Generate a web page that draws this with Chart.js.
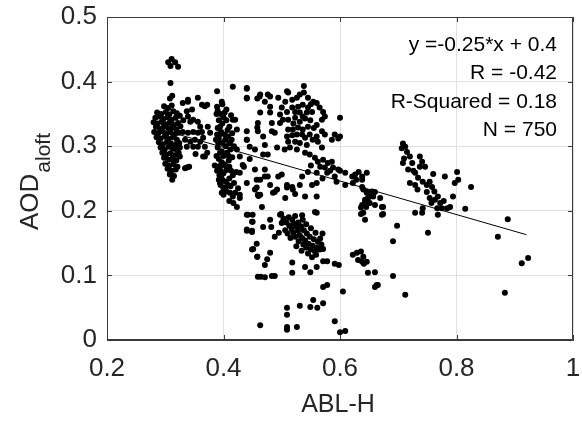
<!DOCTYPE html>
<html><head><meta charset="utf-8">
<script src="https://cdn.jsdelivr.net/npm/chart.js@4/dist/chart.umd.min.js"></script>
<style>html,body{margin:0;padding:0;background:#fff}#wrap{width:582px;height:423px}</style>
</head><body><div id="wrap"><canvas id="c" width="582" height="423"></canvas></div>
<script>
// ---- data (ABL-H, AOD aloft) ----
const leftHigh = [[0.305,0.43],[0.311,0.435],[0.317,0.43],[0.322,0.423],[0.309,0.424],[0.309,0.398],[0.312,0.378],[0.308,0.374],[0.33,0.367],[0.339,0.369],[0.356,0.375],[0.363,0.364],[0.368,0.362],[0.339,0.372],[0.372,0.364],[0.389,0.385],[0.397,0.369],[0.389,0.361],[0.416,0.392],[0.44,0.389],[0.44,0.374],[0.458,0.374],[0.42,0.341]];
const leftCluster = [[0.298,0.362],[0.305,0.359],[0.311,0.363],[0.286,0.352],[0.293,0.35],[0.301,0.353],[0.307,0.349],[0.314,0.354],[0.32,0.351],[0.283,0.344],[0.29,0.346],[0.297,0.342],[0.304,0.345],[0.311,0.341],[0.318,0.344],[0.325,0.347],[0.28,0.337],[0.287,0.335],[0.294,0.338],[0.301,0.334],[0.308,0.337],[0.315,0.333],[0.322,0.336],[0.284,0.33],[0.291,0.327],[0.298,0.331],[0.305,0.328],[0.312,0.329],[0.319,0.326],[0.326,0.331],[0.281,0.322],[0.288,0.32],[0.295,0.323],[0.302,0.319],[0.309,0.322],[0.316,0.318],[0.323,0.321],[0.285,0.314],[0.292,0.312],[0.299,0.315],[0.306,0.311],[0.313,0.314],[0.32,0.31],[0.289,0.306],[0.296,0.303],[0.303,0.307],[0.31,0.304],[0.317,0.302],[0.324,0.305],[0.292,0.298],[0.299,0.295],[0.306,0.299],[0.313,0.296],[0.32,0.294],[0.295,0.29],[0.302,0.287],[0.309,0.289],[0.316,0.286],[0.323,0.29],[0.298,0.282],[0.305,0.279],[0.312,0.281],[0.319,0.278],[0.3,0.273],[0.307,0.27],[0.314,0.272],[0.321,0.268],[0.304,0.265],[0.311,0.262],[0.318,0.264],[0.308,0.257],[0.315,0.254],[0.312,0.248],[0.313,0.279],[0.325,0.284],[0.334,0.266],[0.341,0.268],[0.337,0.267],[0.308,0.256]];
const boxArea = [[0.337,0.354],[0.346,0.357],[0.339,0.346],[0.348,0.341],[0.343,0.338],[0.33,0.322],[0.339,0.321],[0.348,0.322],[0.356,0.321],[0.363,0.322],[0.334,0.31],[0.343,0.307],[0.351,0.31],[0.36,0.307],[0.365,0.313],[0.337,0.299],[0.348,0.299],[0.356,0.299],[0.368,0.299],[0.372,0.29],[0.365,0.284],[0.325,0.298],[0.356,0.338],[0.373,0.33],[0.377,0.321],[0.368,0.284],[0.352,0.288],[0.36,0.33],[0.331,0.34]];
const column = [[0.39,0.355],[0.395,0.35],[0.4,0.345],[0.392,0.34],[0.398,0.335],[0.405,0.34],[0.41,0.33],[0.39,0.328],[0.396,0.322],[0.402,0.318],[0.408,0.315],[0.415,0.32],[0.392,0.312],[0.398,0.305],[0.404,0.3],[0.41,0.305],[0.39,0.298],[0.394,0.29],[0.4,0.285],[0.406,0.29],[0.412,0.295],[0.418,0.3],[0.392,0.28],[0.397,0.275],[0.403,0.27],[0.409,0.278],[0.415,0.283],[0.39,0.268],[0.395,0.262],[0.4,0.258],[0.405,0.263],[0.41,0.268],[0.393,0.255],[0.398,0.248],[0.404,0.245],[0.41,0.25],[0.416,0.255],[0.422,0.26],[0.395,0.24],[0.4,0.235],[0.405,0.23],[0.412,0.238],[0.418,0.243],[0.4,0.225],[0.42,0.228],[0.425,0.235],[0.398,0.365],[0.405,0.357],[0.413,0.348],[0.387,0.31],[0.388,0.285],[0.385,0.27],[0.416,0.341],[0.423,0.326],[0.411,0.305],[0.423,0.295],[0.428,0.284],[0.433,0.271],[0.428,0.259],[0.411,0.228],[0.428,0.22],[0.423,0.206],[0.44,0.194],[0.44,0.323],[0.44,0.31],[0.394,0.243],[0.403,0.236],[0.416,0.222],[0.442,0.194],[0.449,0.183],[0.44,0.171],[0.449,0.169],[0.449,0.14],[0.458,0.129],[0.393,0.318],[0.397,0.292],[0.401,0.272],[0.396,0.253],[0.388,0.35],[0.402,0.352],[0.394,0.33],[0.407,0.325],[0.389,0.318],[0.403,0.31],[0.414,0.31],[0.391,0.305],[0.409,0.285],[0.395,0.27],[0.413,0.262],[0.389,0.262],[0.392,0.248],[0.408,0.24],[0.397,0.228],[0.41,0.215],[0.417,0.212]];
const midLeft = [[0.44,0.39],[0.44,0.375],[0.463,0.38],[0.476,0.38],[0.471,0.369],[0.48,0.361],[0.463,0.352],[0.48,0.352],[0.459,0.336],[0.483,0.336],[0.459,0.323],[0.483,0.323],[0.488,0.321],[0.468,0.315],[0.44,0.31],[0.445,0.299],[0.454,0.295],[0.471,0.302],[0.492,0.298],[0.468,0.287],[0.476,0.287],[0.494,0.253],[0.471,0.264],[0.476,0.253],[0.48,0.24],[0.463,0.248],[0.457,0.236],[0.459,0.225],[0.492,0.233],[0.506,0.22],[0.454,0.264],[0.44,0.243],[0.457,0.248],[0.471,0.253],[0.488,0.229],[0.5,0.256],[0.454,0.233],[0.463,0.225],[0.428,0.225],[0.509,0.236],[0.519,0.233],[0.48,0.377],[0.462,0.377],[0.458,0.329],[0.445,0.28],[0.435,0.268]];
const upperMid = [[0.494,0.375],[0.506,0.369],[0.511,0.383],[0.518,0.372],[0.526,0.375],[0.531,0.38],[0.538,0.393],[0.538,0.383],[0.545,0.375],[0.554,0.369],[0.56,0.367],[0.5,0.36],[0.509,0.353],[0.518,0.36],[0.523,0.353],[0.528,0.361],[0.536,0.364],[0.545,0.36],[0.552,0.353],[0.571,0.353],[0.574,0.346],[0.497,0.349],[0.502,0.341],[0.497,0.336],[0.511,0.341],[0.523,0.344],[0.531,0.352],[0.536,0.346],[0.543,0.352],[0.569,0.341],[0.6,0.344],[0.511,0.326],[0.519,0.326],[0.528,0.329],[0.536,0.326],[0.509,0.315],[0.518,0.317],[0.526,0.318],[0.535,0.318],[0.54,0.313],[0.511,0.307],[0.523,0.307],[0.531,0.305],[0.543,0.302],[0.514,0.298],[0.526,0.295],[0.56,0.333],[0.569,0.323],[0.574,0.318],[0.586,0.31],[0.591,0.318],[0.6,0.315],[0.56,0.315],[0.562,0.307],[0.569,0.298],[0.509,0.385],[0.549,0.34],[0.555,0.328],[0.548,0.318],[0.553,0.31],[0.52,0.335],[0.545,0.33],[0.505,0.295],[0.597,0.312],[0.531,0.338],[0.54,0.343],[0.565,0.36],[0.55,0.365]];
const diagonalBand = [[0.54,0.29],[0.548,0.287],[0.557,0.282],[0.562,0.276],[0.571,0.279],[0.566,0.268],[0.574,0.267],[0.579,0.274],[0.586,0.276],[0.588,0.267],[0.597,0.264],[0.609,0.259],[0.621,0.253],[0.622,0.243],[0.638,0.248],[0.609,0.24],[0.591,0.253],[0.578,0.259],[0.56,0.259],[0.56,0.243],[0.552,0.24],[0.535,0.253],[0.531,0.24],[0.518,0.237],[0.509,0.24],[0.54,0.222],[0.56,0.222],[0.626,0.256],[0.646,0.259],[0.638,0.253],[0.6,0.262],[0.583,0.262],[0.594,0.245],[0.57,0.25],[0.55,0.27],[0.545,0.26],[0.523,0.226],[0.485,0.228],[0.46,0.223],[0.466,0.206],[0.468,0.175],[0.48,0.186],[0.482,0.175],[0.488,0.16],[0.495,0.166],[0.499,0.195],[0.502,0.183],[0.56,0.197],[0.557,0.198],[0.45,0.194],[0.45,0.183]];
const lowerMid = [[0.497,0.194],[0.503,0.188],[0.5,0.181],[0.508,0.182],[0.513,0.177],[0.517,0.172],[0.52,0.166],[0.52,0.18],[0.526,0.175],[0.523,0.16],[0.528,0.169],[0.531,0.162],[0.529,0.153],[0.535,0.158],[0.537,0.148],[0.54,0.154],[0.542,0.143],[0.546,0.149],[0.55,0.14],[0.553,0.146],[0.557,0.137],[0.56,0.143],[0.565,0.14],[0.568,0.148],[0.571,0.141],[0.562,0.152],[0.555,0.156],[0.548,0.16],[0.543,0.165],[0.538,0.17],[0.533,0.176],[0.528,0.182],[0.518,0.186],[0.512,0.19],[0.515,0.158],[0.51,0.165],[0.525,0.145],[0.534,0.138],[0.545,0.134],[0.552,0.128],[0.559,0.132],[0.566,0.157],[0.57,0.165],[0.558,0.166],[0.55,0.173],[0.542,0.179],[0.536,0.186],[0.506,0.17],[0.523,0.192],[0.535,0.193]];
const lowerScatter = [[0.463,0.023],[0.509,0.05],[0.509,0.039],[0.509,0.02],[0.509,0.016],[0.526,0.02],[0.531,0.053],[0.549,0.051],[0.554,0.062],[0.561,0.05],[0.571,0.057],[0.571,0.082],[0.578,0.085],[0.591,0.029],[0.6,0.012],[0.609,0.014],[0.605,0.075],[0.464,0.098],[0.471,0.097],[0.483,0.099],[0.488,0.099],[0.518,0.104],[0.518,0.12],[0.54,0.113],[0.549,0.105],[0.56,0.113],[0.571,0.122],[0.578,0.122],[0.591,0.118],[0.598,0.116],[0.471,0.116],[0.475,0.125],[0.48,0.135],[0.458,0.129],[0.451,0.141],[0.457,0.149],[0.44,0.169],[0.449,0.167],[0.459,0.098]];
const rightMid = [[0.622,0.132],[0.629,0.135],[0.636,0.137],[0.631,0.124],[0.638,0.121],[0.641,0.118],[0.64,0.129],[0.646,0.121],[0.648,0.104],[0.66,0.105],[0.663,0.085],[0.66,0.082],[0.665,0.085],[0.691,0.099],[0.691,0.153],[0.698,0.177],[0.712,0.07],[0.64,0.233],[0.646,0.228],[0.655,0.23],[0.657,0.222],[0.648,0.22],[0.643,0.214],[0.638,0.209],[0.651,0.212],[0.66,0.209],[0.645,0.206],[0.674,0.206],[0.64,0.197],[0.674,0.195],[0.643,0.186],[0.638,0.237],[0.646,0.229],[0.66,0.229],[0.651,0.222],[0.643,0.217],[0.669,0.22],[0.672,0.206],[0.672,0.194],[0.636,0.205],[0.636,0.195],[0.632,0.26],[0.628,0.248]];
const rightCluster = [[0.708,0.304],[0.712,0.299],[0.715,0.291],[0.72,0.284],[0.708,0.274],[0.724,0.274],[0.717,0.264],[0.729,0.259],[0.72,0.243],[0.729,0.24],[0.737,0.284],[0.741,0.276],[0.746,0.268],[0.737,0.268],[0.734,0.251],[0.742,0.245],[0.749,0.24],[0.754,0.245],[0.76,0.257],[0.758,0.237],[0.749,0.229],[0.754,0.22],[0.763,0.217],[0.768,0.222],[0.772,0.212],[0.775,0.204],[0.767,0.204],[0.784,0.204],[0.789,0.206],[0.768,0.194],[0.78,0.253],[0.794,0.222],[0.801,0.26],[0.803,0.248],[0.797,0.243],[0.825,0.237],[0.815,0.203],[0.742,0.204],[0.741,0.197],[0.729,0.197],[0.751,0.166],[0.706,0.297],[0.71,0.281],[0.726,0.262],[0.733,0.233],[0.762,0.23],[0.757,0.212],[0.778,0.215]];
const farRight = [[0.888,0.187],[0.871,0.16],[0.912,0.119],[0.923,0.127],[0.883,0.073]];
// fitted line endpoints as drawn (y = -0.25*x + 0.4)
const fitX = [0.285, 0.92];
const fitY = [0.328, 0.163];
const xTicks = [0.2, 0.4, 0.6, 0.8, 1];
const yTicks = [0, 0.1, 0.2, 0.3, 0.4, 0.5];
const statsLines = ['y =-0.25*x + 0.4', 'R = -0.42', 'R-Squared = 0.18', 'N = 750'];

const FONT = '"Liberation Sans", Arial, Helvetica, sans-serif';
const groups = [leftHigh, leftCluster, boxArea, column, midLeft, upperMid, diagonalBand, lowerMid, lowerScatter, rightMid, rightCluster, farRight];
const pts = [];
groups.forEach(g => g.forEach(p => pts.push({x: p[0], y: p[1]})));
const fitPts = fitX.map((x, i) => ({x, y: fitY[i]}));

const fmt = v => String(Number(v.toFixed(1)));

const framePlugin = {
  id: 'frame',
  afterDatasetsDraw(chart) {
    const ctx = chart.ctx, a = chart.chartArea;
    const xs = chart.scales.x, ys = chart.scales.y;
    ctx.save();
    ctx.strokeStyle = '#3a3a3a';
    ctx.lineWidth = 1;
    ctx.beginPath();
    ctx.rect(a.left + 0.5, a.top + 0.5, a.right - a.left - 1, a.bottom - a.top - 1);
    ctx.stroke();
    ctx.beginPath();
    const L = 5;
    xTicks.forEach(v => {
      const px = Math.round(xs.getPixelForValue(v)) + 0.5;
      ctx.moveTo(px, a.bottom); ctx.lineTo(px, a.bottom - L);
      ctx.moveTo(px, a.top); ctx.lineTo(px, a.top + L);
    });
    yTicks.forEach(v => {
      const py = Math.round(ys.getPixelForValue(v)) + 0.5;
      ctx.moveTo(a.left, py); ctx.lineTo(a.left + L, py);
      ctx.moveTo(a.right, py); ctx.lineTo(a.right - L, py);
    });
    ctx.stroke();
    // stats text
    ctx.fillStyle = '#000';
    ctx.font = '21px ' + FONT;
    ctx.textAlign = 'right';
    ctx.textBaseline = 'middle';
    const ty = [45, 73, 102, 130];
    statsLines.forEach((s, i) => ctx.fillText(s, 557, ty[i]));
    // x title
    ctx.fillStyle = '#262626';
    ctx.font = '25px ' + FONT;
    ctx.textAlign = 'center';
    ctx.fillText('ABL-H', 338, 405);
    // y title with subscript
    ctx.save();
    ctx.translate(50, 182);
    ctx.rotate(-Math.PI / 2);
    ctx.textBaseline = 'alphabetic';
    ctx.textAlign = 'left';
    const f1 = '26px ' + FONT, f2 = '21px ' + FONT;
    ctx.font = f1; const w1 = ctx.measureText('AOD').width;
    ctx.font = f2; const w2 = ctx.measureText('aloft').width;
    const sx = -(w1 + w2) / 2;
    ctx.font = f1; ctx.fillText('AOD', sx, -12);
    ctx.font = f2; ctx.fillText('aloft', sx + w1 + 1, 0);
    ctx.restore();
    ctx.restore();
  }
};

new Chart(document.getElementById('c'), {
  type: 'scatter',
  data: {
    datasets: [
      {type: 'line', data: fitPts, borderColor: '#000', borderWidth: 1, pointRadius: 0, fill: false, order: 0},
      {data: pts, backgroundColor: '#000', borderWidth: 0, pointRadius: 3, order: 1}
    ]
  },
  options: {
    responsive: false, animation: false, devicePixelRatio: 1,
    layout: {padding: {left: 0, top: 17, right: 9, bottom: 0}},
    plugins: {legend: {display: false}, tooltip: {enabled: false}},
    scales: {
      x: {
        type: 'linear', min: 0.2, max: 1,
        afterBuildTicks: s => { s.ticks = xTicks.map(v => ({value: v})); },
        ticks: {callback: fmt, font: {family: FONT, size: 26}, color: '#262626', padding: 13, maxRotation: 0, autoSkip: false},
        grid: {color: '#e0e0e0', drawTicks: false},
        border: {color: '#3a3a3a'},
        afterFit: s => { s.height = 83; s.paddingLeft = 0; s.paddingRight = 0; }
      },
      y: {
        type: 'linear', min: 0, max: 0.5,
        afterBuildTicks: s => { s.ticks = yTicks.map(v => ({value: v})); },
        ticks: {callback: fmt, font: {family: FONT, size: 26}, color: '#262626', padding: 10, autoSkip: false},
        grid: {color: '#e0e0e0', drawTicks: false},
        border: {color: '#3a3a3a'},
        afterFit: s => { s.width = 107; s.paddingTop = 0; s.paddingBottom = 0; }
      }
    }
  },
  plugins: [framePlugin]
});
</script>
</body></html>
